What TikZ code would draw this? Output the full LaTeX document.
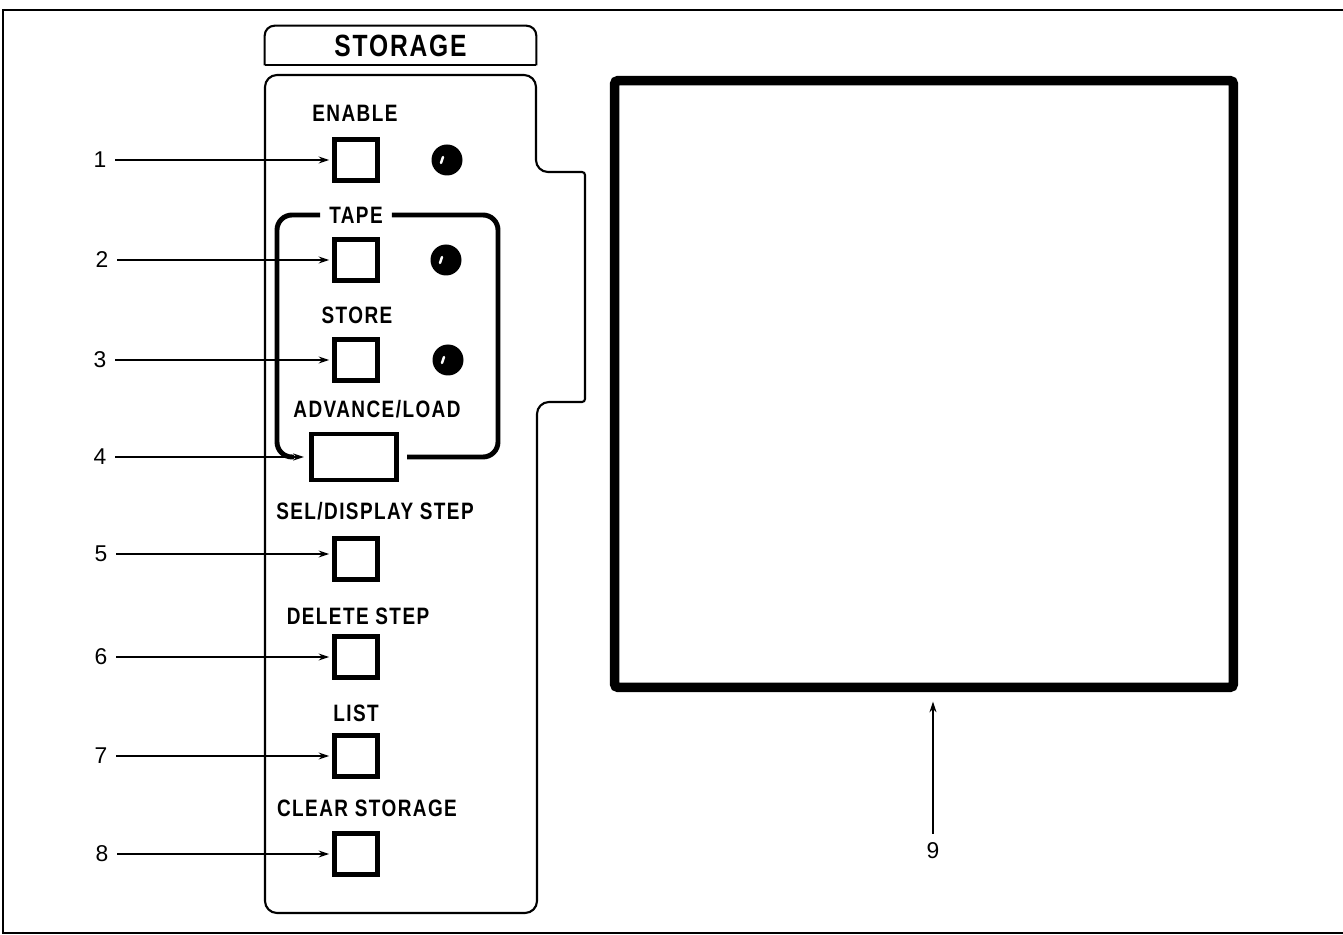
\documentclass[tikz,border=0pt]{standalone}
\usepackage{fontspec}
\newfontfamily\panelfont[FakeStretch=0.8, LetterSpace=6]{Liberation Sans}
\newfontfamily\calloutfont{Liberation Sans}
\usetikzlibrary{arrows.meta, positioning}

\begin{document}
\begin{tikzpicture}[
    x=0.02cm, y=-0.02cm,
    btn/.style = {rectangle, draw=black, line width=3.1pt, minimum width=0.86cm, minimum height=0.82cm, inner sep=0pt},
    widebtn/.style = {btn, line width=2.8pt, minimum width=1.7cm, minimum height=0.92cm},
    led/.style = {circle, fill=black, minimum size=0.62cm, inner sep=0pt,
        path picture={\draw[white, line width=1.4pt, line cap=round] ([shift={(-6,3)}]path picture bounding box.center) -- ++(2,-6);}},
    caption/.style = {font=\panelfont\bfseries\fontsize{13.5}{15}\selectfont, inner sep=0pt},
    num/.style = {font=\calloutfont\fontsize{13}{15}\selectfont, inner sep=5pt},
    pointer/.style = {draw=black, line width=0.8pt, -{Stealth[length=6pt,width=4pt]}, shorten >=1.5pt},
    outline/.style = {draw=black, line width=1.2pt},
    bracket/.style = {draw=black, line width=2.8pt, rounded corners=0.3cm},
    screen/.style = {rectangle, draw=black, line width=5.4pt, rounded corners=2pt, minimum width=12.38cm, minimum height=12.14cm}
]
\useasboundingbox (0,0) rectangle (1343,935);

% Outer frame
\draw[outline, line width=1pt] (1343,10) -- (3,10) -- (3,933) -- (1343,933);

% Storage tab
\node (tab) [font=\panelfont\bfseries\fontsize{17.5}{19}\selectfont, minimum width=5.42cm, minimum height=0.78cm, inner sep=0pt, at={(400.5,45.5)}] {STORAGE};
\draw[outline, rounded corners=0.2cm] (tab.south west) -- (tab.north west) -- (tab.north east) -- (tab.south east);
\draw[outline] (tab.south west) -- (tab.south east);

% Panel outline
\draw[outline, rounded corners=0.24cm] (265,75) -- (536,75) -- (536,172) [rounded corners=0.06cm] -- (585,172) -- (585,402) [rounded corners=0.24cm] -- (537,402) -- (537,913) -- (265,913) -- cycle;

% Buttons
\node (btn1) [btn, at={(356,160)}] {};
\node (btn2) [btn, at={(356,260)}] {};
\node (btn3) [btn, at={(356,360)}] {};
\node (btn4) [widebtn, at={(354,457)}] {};
\node (btn5) [btn, at={(356,559)}] {};
\node (btn6) [btn, at={(356,657)}] {};
\node (btn7) [btn, at={(356,756)}] {};
\node (btn8) [btn, at={(356,854)}] {};

% Indicator lamps
\node (led1) [led, at={(447,160)}] {};
\node (led2) [led, at={(446,260)}] {};
\node (led3) [led, at={(448,360)}] {};

% Captions
\node (cap_enable) [caption, at={(355,113)}] {ENABLE};
\node (cap_tape) [caption, at={(356,215)}] {TAPE};
\node (cap_store) [caption, at={(357,315)}] {STORE};
\node (cap_advance) [caption, at={(377,409)}] {ADVANCE/LOAD};
\node (cap_sel) [caption, at={(375,511)}] {SEL/DISPLAY STEP};
\node (cap_delete) [caption, at={(358,616)}] {DELETE STEP};
\node (cap_list) [caption, at={(356,713)}] {LIST};
\node (cap_clear) [caption, at={(367,808)}] {CLEAR STORAGE};

% Tape group bracket
\draw[bracket] ([xshift=-5pt]cap_tape.west) -- (277,215) -- (277,457) -- (294,457);
\draw[bracket] ([xshift=5pt]cap_tape.east) -- (498,215) -- (498,457) -- (407,457);

% Display screen
\node (screen) [screen, at={(924,384)}] {};

% Callout numbers
\node (num1) [num, at={(100,160)}] {1};
\node (num2) [num, at={(102,260)}] {2};
\node (num3) [num, at={(100,360)}] {3};
\node (num4) [num, at={(100,457)}] {4};
\node (num5) [num, at={(101,554)}] {5};
\node (num6) [num, at={(101,657)}] {6};
\node (num7) [num, at={(101,756)}] {7};
\node (num8) [num, at={(102,854)}] {8};
\node (num9) [num, at={(933,851)}] {9};

% Pointers
\draw[pointer] (num1) -- (btn1);
\draw[pointer] (num2) -- (btn2);
\draw[pointer] (num3) -- (btn3);
\draw[pointer, shorten >=3pt] (num4) -- (btn4);
\draw[pointer] (num5) -- (num5 -| btn5.west);
\draw[pointer] (num6) -- (btn6);
\draw[pointer] (num7) -- (btn7);
\draw[pointer] (num8) -- (btn8);
\draw[pointer, shorten >=5.4pt] (num9) -- (num9 |- screen.south);

\end{tikzpicture}
\end{document}
